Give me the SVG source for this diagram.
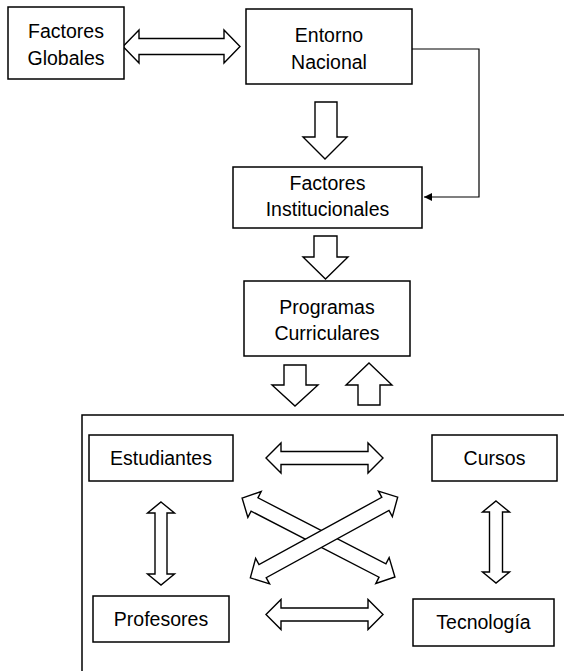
<svg xmlns="http://www.w3.org/2000/svg" width="564" height="671" viewBox="0 0 564 671">
<defs>
<style>
.box{fill:#fff;stroke:#000;stroke-width:1.5}
.arr{fill:#fff;stroke:#000;stroke-width:1.4;stroke-linejoin:miter}
.t{font-family:"Liberation Sans",Arial,sans-serif;font-size:19.5px;fill:#000;text-anchor:middle}
.ln{fill:none;stroke:#000;stroke-width:1.2}
</style>
<marker id="ah" markerWidth="10" markerHeight="10" refX="8" refY="4" orient="auto" markerUnits="userSpaceOnUse">
<path d="M0,0 L8,4 L0,8 Z" fill="#000"/>
</marker>
</defs>
<rect width="564" height="671" fill="#fff"/>

<g id="frame">
<polyline class="ln" points="82,671 82,415 564,415" style="stroke-width:1.5"/>
</g>

<g id="connectors">
<polygon class="arr" transform="translate(181.5,46.5)" points="-58.5,0 -42.5,-16.5 -42.5,-8 42.5,-8 42.5,-16.5 58.5,0 42.5,16.5 42.5,8 -42.5,8 -42.5,16.5"/>
<polyline class="ln" points="412,49 479,49 479,197 424,197" marker-end="url(#ah)"/>
<polygon class="arr" points="315,102 337,102 337,137 347,137 325,159 303,137 315,137"/>
<polygon class="arr" points="314,236 337,236 337,257 348,257 325.5,279 303,257 314,257"/>
<polygon class="arr" points="284,365 306,365 306,385 318,385 295,406 272,385 284,385"/>
<polygon class="arr" points="369,363 392,385 380,385 380,405 358,405 358,385 346,385"/>
<polygon class="arr" transform="translate(324.5,458)" points="-58.5,0 -43.5,-15 -43.5,-6.5 43.5,-6.5 43.5,-15 58.5,0 43.5,15 43.5,6.5 -43.5,6.5 -43.5,15"/>
<polygon class="arr" transform="translate(324.5,614.5)" points="-58.5,0 -43.5,-15 -43.5,-6.5 43.5,-6.5 43.5,-15 58.5,0 43.5,15 43.5,6.5 -43.5,6.5 -43.5,15"/>
<polygon class="arr" transform="translate(161,543.5) rotate(90)" points="-41.5,0 -30.5,-13.5 -30.5,-6 30.5,-6 30.5,-13.5 41.5,0 30.5,13.5 30.5,6 -30.5,6 -30.5,13.5"/>
<polygon class="arr" transform="translate(496,542) rotate(90)" points="-41,0 -30,-13.5 -30,-6.5 30,-6.5 30,-13.5 41,0 30,13.5 30,6.5 -30,6.5 -30,13.5"/>
<polygon class="arr" transform="translate(318.5,537.5) rotate(27.3)" points="-86,0 -72,-14.5 -72,-7.5 72,-7.5 72,-14.5 86,0 72,14.5 72,7.5 -72,7.5 -72,14.5"/>
<polygon class="arr" transform="translate(324,537.5) rotate(-28.7)" points="-84,0 -70,-14.5 -70,-7.5 70,-7.5 70,-14.5 84,0 70,14.5 70,7.5 -70,7.5 -70,14.5"/>
</g>

<g id="factores-globales">
<rect class="box" x="8" y="7" width="116" height="72"/>
<text class="t" x="66" y="38">Factores</text>
<text class="t" x="66" y="64.5">Globales</text>
</g>
<g id="entorno-nacional">
<rect class="box" x="246" y="9" width="166" height="75"/>
<text class="t" x="329" y="42">Entorno</text>
<text class="t" x="329" y="68.5">Nacional</text>
</g>
<g id="factores-institucionales">
<rect class="box" x="233" y="167" width="189" height="61"/>
<text class="t" x="327.5" y="189.5">Factores</text>
<text class="t" x="327.5" y="216">Institucionales</text>
</g>
<g id="programas-curriculares">
<rect class="box" x="244" y="281" width="166" height="75"/>
<text class="t" x="327" y="313.5">Programas</text>
<text class="t" x="327" y="340">Curriculares</text>
</g>
<g id="estudiantes">
<rect class="box" x="89" y="435" width="144" height="46"/>
<text class="t" x="161" y="464.5">Estudiantes</text>
</g>
<g id="cursos">
<rect class="box" x="432" y="435" width="125" height="46"/>
<text class="t" x="494.5" y="464.5">Cursos</text>
</g>
<g id="profesores">
<rect class="box" x="93" y="596" width="136" height="46"/>
<text class="t" x="161" y="626">Profesores</text>
</g>
<g id="tecnologia">
<rect class="box" x="413" y="599" width="141" height="47"/>
<text class="t" x="483.5" y="629">Tecnología</text>
</g>
</svg>
